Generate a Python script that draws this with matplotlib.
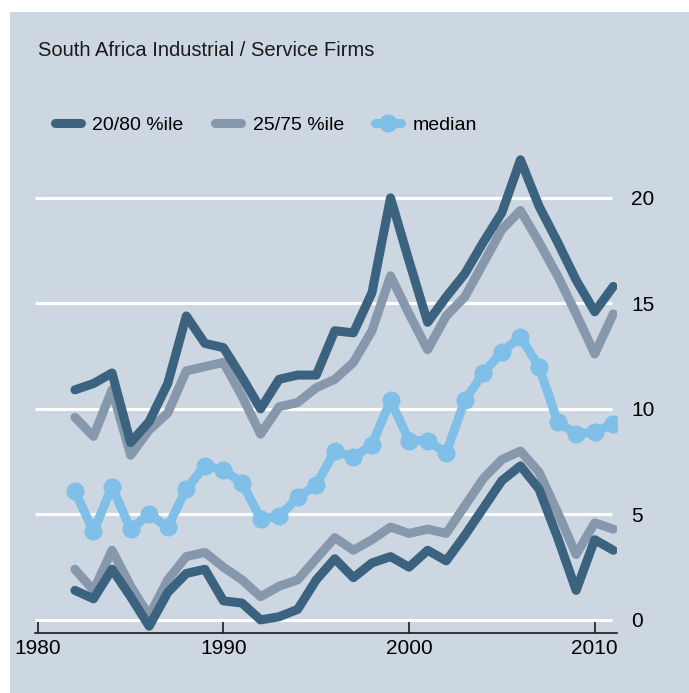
import numpy as np
import matplotlib
matplotlib.use("Agg")
import matplotlib.pyplot as plt
from matplotlib.patches import Rectangle

plt.rcParams['font.family'] = ['Liberation Sans', 'DejaVu Sans']

years = np.arange(1982, 2012)

p80 = [10.9, 11.2, 11.7, 8.4, 9.4, 11.2, 14.4, 13.1, 12.9, 11.5,
       10.0, 11.4, 11.6, 11.6, 13.7, 13.6, 15.5, 20.0, 17.0, 14.1,
       15.3, 16.4, 17.9, 19.3, 21.8, 19.6, 17.9, 16.1, 14.6, 15.8]
p75 = [9.6, 8.7, 10.9, 7.8, 9.0, 9.8, 11.8, 12.0, 12.2, 10.6,
       8.8, 10.1, 10.3, 11.0, 11.4, 12.2, 13.7, 16.3, 14.5, 12.8,
       14.4, 15.3, 16.9, 18.5, 19.4, 17.9, 16.3, 14.5, 12.6, 14.5]
med = [6.1, 4.2, 6.3, 4.3, 5.0, 4.4, 6.2, 7.3, 7.1, 6.5,
       4.8, 4.9, 5.8, 6.4, 8.0, 7.7, 8.3, 10.4, 8.5, 8.5,
       7.9, 10.4, 11.7, 12.7, 13.4, 12.0, 9.4, 8.8, 8.9, 9.3]
p25 = [2.4, 1.4, 3.3, 1.6, 0.2, 1.9, 3.0, 3.2, 2.5, 1.9,
       1.1, 1.6, 1.9, 2.9, 3.9, 3.3, 3.8, 4.4, 4.1, 4.3,
       4.1, 5.4, 6.7, 7.6, 8.0, 7.0, 5.1, 3.1, 4.6, 4.3]
p20 = [1.4, 1.0, 2.4, 1.1, -0.3, 1.3, 2.2, 2.4, 0.9, 0.8,
       0.0, 0.15, 0.5, 1.9, 2.9, 2.0, 2.7, 3.0, 2.5, 3.3,
       2.8, 4.0, 5.3, 6.6, 7.3, 6.2, 3.9, 1.4, 3.8, 3.3]

xticks = [1980, 1990, 2000, 2010]
yticks = [0, 5, 10, 15, 20]

bg = '#cdd7e1'
dark = '#3b627f'
gray = '#8798ac'
light = '#7fbfe8'

fig = plt.figure(figsize=(6.89, 6.93), dpi=100, facecolor='white')
fig.patches.append(Rectangle((10/689, 0), 1, (693-12)/693, transform=fig.transFigure,
                             facecolor=bg, edgecolor='none', zorder=-10))

ax = fig.add_axes([35/689, 60/693, 582/689, 488/693])
ax.set_facecolor('none')
ax.set_xlim(1979.85, 2011.2)
ax.set_ylim(-0.62, 22.5)

for y in yticks:
    ax.plot([1979.85, 2010.95], [y, y], color='white', lw=2.2, zorder=1, solid_capstyle='butt')

kw = dict(lw=6.5, solid_joinstyle='round', solid_capstyle='round')
ax.plot(years, p75, color=gray, zorder=2, label='25/75 %ile', **kw)
ax.plot(years, p25, color=gray, zorder=2, **kw)
ax.plot(years, p80, color=dark, zorder=3, label='20/80 %ile', **kw)
ax.plot(years, p20, color=dark, zorder=3, **kw)
ax.plot(years, med, color=light, marker='o', ms=12, mec=light, zorder=4, label='median', **kw)

for s in ['top', 'left', 'right']:
    ax.spines[s].set_visible(False)
ax.spines['bottom'].set_color('#1a1a1a')
ax.spines['bottom'].set_linewidth(1.2)

ax.set_xticks(xticks)
ax.set_xticklabels([str(x) for x in xticks], fontsize=15)
ax.tick_params(axis='x', direction='in', length=8, width=1.2, color='#1a1a1a', pad=4)
ax.yaxis.tick_right()
ax.set_yticks(yticks)
ax.set_yticklabels([str(y) for y in yticks], fontsize=15)
ax.tick_params(axis='y', length=0, pad=10)

h, l = ax.get_legend_handles_labels()
order = [1, 0, 2]
fig.legend([h[i] for i in order], [l[i] for i in order], loc='center left',
           bbox_to_anchor=(37/689, 1 - 125/693), ncol=3, frameon=False,
           fontsize=14, handlelength=1.35, columnspacing=1.6, handletextpad=0.6)

fig.text(38/689, 1 - 50/693, 'South Africa Industrial / Service Firms', fontsize=14.5,
         va='center', ha='left', color='#1a1a1a')

fig.savefig('out.png', dpi=100, facecolor='white')
